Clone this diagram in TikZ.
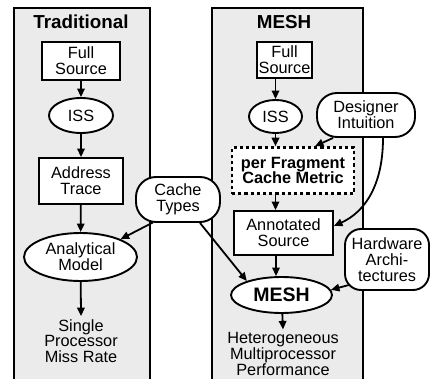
\documentclass[tikz,border=0pt]{standalone}
\usepackage{fontspec}
\setmainfont{Liberation Sans}
\usetikzlibrary{shapes.geometric,arrows.meta,calc}
\definecolor{panelgray}{HTML}{EBEBEB}
\newcommand\bodyfont{\fontsize{16.3}{15.7}\selectfont}
\newcommand\titlefont{\fontsize{18.8}{18.8}\selectfont\bfseries}
\tikzset{
  base/.style={draw, line width=1.9pt, fill=white, inner sep=0pt, align=center, font=\bodyfont},
  rectbox/.style={base, rectangle},
  ovalbox/.style={base, ellipse},
  roundbox/.style={base, rectangle, rounded corners=18pt},
  dashbox/.style={base, rectangle, dash pattern=on 3.2pt off 3pt, line width=2.6pt, font=\bodyfont\bfseries},
  panel/.style={draw, line width=1.1pt, fill=panelgray},
  arr/.style={line width=1.8pt, -{Triangle[length=8.5pt,width=7.5pt]}},
  plain/.style={align=center, font=\bodyfont, inner sep=0pt},
  title/.style={font=\titlefont, inner sep=0pt}
}
\begin{document}
\begin{tikzpicture}[x=1pt,y=-1pt]
\useasboundingbox (0,0) rectangle (430,379);
\clip (0,0) rectangle (430,379);
\fill[white] (0,0) rectangle (430,379);
% panels
\draw[panel] (14,8) rectangle (150,395);
\draw[panel] (212,8) rectangle (363,395);
\node[title] (t1) at (81,22) {Traditional};
\node[title] (t2) at (284,22) {MESH};
% left column
\node[rectbox, minimum width=78pt, minimum height=38pt] (fs1) at (81,61) {Full\\Source};
\node[ovalbox, minimum width=64pt, minimum height=35pt] (iss1) at (81,115.5) {ISS};
\node[rectbox, minimum width=84pt, minimum height=46pt] (at1) at (81,181) {Address\\Trace};
\node[ovalbox, minimum width=113pt, minimum height=48pt] (am1) at (80.5,257) {Analytical\\Model};
\node[plain, inner ysep=3pt] (out1) at (81,341) {Single\\Processor\\Miss Rate};
% right column
\node[rectbox, minimum width=55pt, minimum height=36pt] (fs2) at (284.5,60) {Full\\Source};
\node[ovalbox, minimum width=53pt, minimum height=33pt] (iss2) at (275.5,116.5) {ISS};
\node[roundbox, minimum width=98pt, minimum height=44pt, rounded corners=20pt] (di) at (366,115) {Designer\\Intuition};
\node[dashbox, minimum width=122pt, minimum height=46pt] (pf) at (293,170.5) {per Fragment\\Cache Metric};
\node[rectbox, minimum width=99pt, minimum height=44pt] (as) at (283.5,233) {Annotated\\Source};
\node[ovalbox, minimum width=101pt, minimum height=36pt, font=\fontsize{19.5}{19.5}\selectfont\bfseries] (mesh) at (281.5,295) {MESH};
\node[roundbox, minimum width=84pt, minimum height=61pt, rounded corners=16pt] (hw) at (387,259.5) {Hardware\\Archi-\\tectures};
\node[plain, inner ysep=3pt] (out2) at (283,354) {Heterogeneous\\Multiprocessor\\Performance};
% shared
\node[roundbox, minimum width=84pt, minimum height=45pt, rounded corners=20pt] (ct) at (178,199.5) {Cache\\Types};
% left arrows
\draw[arr] (fs1) -- (iss1);
\draw[arr] (iss1) -- (at1);
\draw[arr] (at1) -- (am1);
\draw[arr] (am1) -- (out1.north);
% right arrows
\draw[arr] (fs2.south -| iss2.north) -- (iss2.north);
\draw[arr] (iss2.south) -- (pf.north -| iss2.south);
\draw[arr] ($(di.south)+(-33,0)$) -- ($(pf.north)+(22,0)$);
\draw[arr] (pf.south -| iss2.south) -- (as.north -| iss2.south);
\draw[arr] ($(di.south)+(17,0)$) .. controls (383,185) and (365,212) .. (as.8);
\draw[arr] ($(as.south)+(-7.5,0)$) -- ($(mesh.north)+(-5.5,0)$);
\draw[arr] ($(hw.south west)+(5,-6)$) -- (mesh.6);
\draw[arr] (mesh) -- (out2.north);
% cache types arrows
\draw[arr] ($(ct.south)+(-25,-0.5)$) -- (am1.24);
\draw[arr] ($(ct.south)+(22,0)$) -- (mesh.158);
\end{tikzpicture}
\end{document}
